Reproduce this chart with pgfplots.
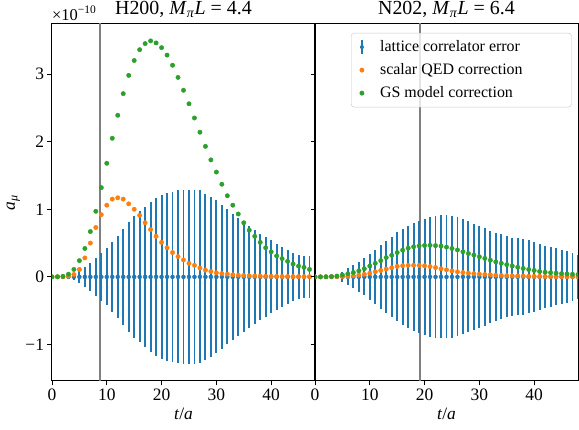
\documentclass[border=0pt]{standalone}
\usepackage{fontspec}
\setmainfont{Liberation Serif}
\usepackage{pgfplots}
\pgfplotsset{compat=1.18}
\usepackage{pgfplotstable}

\definecolor{c0}{HTML}{1F77B4}
\definecolor{c1}{HTML}{FF7F0E}
\definecolor{c2}{HTML}{2CA02C}

% marker for the legend: a vertical error bar with a dot at its centre
\pgfdeclareplotmark{errbar}{%
  \pgfsetlinewidth{1.9bp}%
  \pgfpathmoveto{\pgfqpoint{0pt}{-7bp}}%
  \pgfpathlineto{\pgfqpoint{0pt}{7bp}}%
  \pgfusepathqstroke
  \pgfpathcircle{\pgfpointorigin}{2bp}%
  \pgfusepathqfill}

% H200: t, central value, correlator error, scalar QED and GS model corrections (units of 1e-10)
\pgfplotstableread{
t  c  err   qed    gs
0  0  0.000 0.000  0.000
1  0  0.002 0.000  0.002
2  0  0.005 0.002  0.008
3  0  0.015 0.012  0.040
4  0  0.050 0.035  0.110
5  0  0.085 0.110  0.240
6  0  0.150 0.280  0.420
7  0  0.210 0.500  0.670
8  0  0.280 0.730  0.970
9  0  0.350 0.920  1.320
10 0  0.420 1.060  1.680
11 0  0.515 1.150  2.050
12 0  0.610 1.170  2.390
13 0  0.710 1.150  2.710
14 0  0.810 1.080  2.980
15 0  0.900 1.000  3.200
16 0  0.970 0.910  3.360
17 0  1.040 0.800  3.450
18 0  1.110 0.700  3.490
19 0  1.170 0.600  3.460
20 0  1.210 0.510  3.390
21 0  1.240 0.430  3.280
22 0  1.260 0.360  3.130
23 0  1.280 0.300  2.950
24 0  1.290 0.250  2.760
25 0  1.290 0.200  2.560
26 0  1.290 0.170  2.350
27 0  1.280 0.130  2.140
28 0  1.230 0.100  1.930
29 0  1.180 0.080  1.730
30 0  1.130 0.060  1.550
31 0  1.070 0.050  1.370
32 0  1.000 0.040  1.200
33 0  0.930 0.030  1.060
34 0  0.870 0.025  0.930
35 0  0.810 0.020  0.800
36 0  0.750 0.016  0.690
37 0  0.690 0.013  0.600
38 0  0.640 0.011  0.510
39 0  0.590 0.009  0.430
40 0  0.540 0.008  0.370
41 0  0.490 0.007  0.310
42 0  0.440 0.006  0.270
43 0  0.400 0.005  0.230
44 0  0.360 0.004  0.190
45 0  0.330 0.004  0.160
46 0  0.310 0.003  0.140
47 0  0.310 0.003  0.110
}\tabH

% N202: same columns
\pgfplotstableread{
t  c  err   qed    gs
0  0  0.000 0.000  0.000
1  0  0.002 0.000  0.000
2  0  0.005 0.000  0.002
3  0  0.012 0.002  0.005
4  0  0.030 0.003  0.012
5  0  0.075 0.005  0.028
6  0  0.125 0.010  0.045
7  0  0.170 0.015  0.064
8  0  0.220 0.025  0.090
9  0  0.275 0.038  0.120
10 0  0.340 0.055  0.160
11 0  0.400 0.075  0.200
12 0  0.470 0.095  0.240
13 0  0.530 0.115  0.285
14 0  0.590 0.135  0.320
15 0  0.660 0.155  0.360
16 0  0.710 0.165  0.395
17 0  0.750 0.170  0.425
18 0  0.800 0.172  0.445
19 0  0.830 0.170  0.458
20 0  0.860 0.163  0.465
21 0  0.890 0.152  0.466
22 0  0.900 0.138  0.462
23 0  0.910 0.120  0.455
24 0  0.910 0.104  0.440
25 0  0.900 0.088  0.420
26 0  0.880 0.074  0.398
27 0  0.850 0.064  0.372
28 0  0.820 0.055  0.345
29 0  0.780 0.048  0.323
30 0  0.750 0.041  0.298
31 0  0.720 0.035  0.273
32 0  0.680 0.030  0.247
33 0  0.650 0.025  0.222
34 0  0.630 0.021  0.201
35 0  0.600 0.018  0.181
36 0  0.580 0.015  0.161
37 0  0.570 0.013  0.143
38 0  0.560 0.011  0.125
39 0  0.540 0.009  0.110
40 0  0.520 0.008  0.095
41 0  0.490 0.007  0.080
42 0  0.460 0.006  0.070
43 0  0.440 0.005  0.062
44 0  0.420 0.004  0.055
45 0  0.400 0.004  0.048
46 0  0.380 0.003  0.043
47 0  0.360 0.003  0.039
48 0  0.330 0.002  0.035
}\tabN

\pgfplotsset{
  panel/.style={
    scale only axis, width=263bp, height=357bp,
    xmin=0, xmax=48, ymin=-1.54, ymax=3.74,
    xtick={0,10,20,30,40}, ytick={-1,0,1,2,3},
    tick align=outside, xtick pos=bottom, ytick pos=left,
    major tick length=4.5bp,
    every tick/.style={black, line width=0.9bp},
    axis line style={line width=1bp},
    clip marker paths=true,
    /pgf/number format/assume math mode=true,
    tick label style={font=\fontsize{17.5}{20}\selectfont},
    label style={font=\fontsize{17.5}{20}\selectfont},
    title style={font=\fontsize{20}{23}\selectfont, yshift=-3.5bp},
    xlabel={\textit{t}/\textit{a}},
    xlabel style={yshift=0bp},
  },
  errplot/.style={c0, only marks, mark=*, mark size=2bp,
    error bars/y dir=both, error bars/y explicit,
    error bars/error mark=none,
    error bars/error bar style={line width=1.9bp, c0}},
  qedplot/.style={c1, only marks, mark=*, mark size=2.2bp},
  gsplot/.style={c2, only marks, mark=*, mark size=2.2bp},
}

\begin{document}
\begin{tikzpicture}
\begin{axis}[panel, name=left, at={(0bp,0bp)}, anchor=south west,
  yticklabels={−1,0,1,2,3},
  ylabel={\textit{a}\textsubscript{\textit{μ}}},
  ylabel style={yshift=-1.5bp},
  title={H200, \textit{M}\textsubscript{\textit{π}}\textit{L} = 4.4}]
  \addplot[gray, line width=1.5bp] coordinates {(8.76,-2) (8.76,4)};
  \addplot[errplot] table[x=t, y=c, y error=err] {\tabH};
  \addplot[qedplot] table[x=t, y=qed] {\tabH};
  \addplot[gsplot] table[x=t, y=gs] {\tabH};
\end{axis}
\node[anchor=south west, inner sep=0pt, yshift=3.5bp,
  font=\fontsize{16.5}{19}\selectfont] at (left.north west) {×10\textsuperscript{−10}};
\begin{axis}[panel, at={(263bp,0bp)}, anchor=south west,
  yticklabels={},
  title={N202, \textit{M}\textsubscript{\textit{π}}\textit{L} = 6.4},
  legend style={at={(0.137,0.975)}, anchor=north west,
    draw=black!22, rounded corners=3bp, fill=white, fill opacity=0.8,
    text opacity=1, font=\fontsize{16}{19}\selectfont,
    inner xsep=8.5bp, inner ysep=5bp, row sep=5bp,
    nodes={inner xsep=3bp, inner ysep=2bp, text height=11bp, text depth=3bp}},
  legend cell align=left]
  \addplot[gray, line width=1.5bp, forget plot] coordinates {(19.2,-2) (19.2,4)};
  \addplot[forget plot, errplot] table[x=t, y=c, y error=err] {\tabN};
  \addplot[forget plot, qedplot] table[x=t, y=qed] {\tabN};
  \addplot[forget plot, gsplot] table[x=t, y=gs] {\tabN};
  \addlegendimage{only marks, mark=errbar, c0, fill opacity=1, draw opacity=1}
  \addlegendentry{\hspace*{13bp}lattice correlator error\hspace*{40bp}}
  \addlegendimage{only marks, mark=*, mark size=2.2bp, c1, fill opacity=1, draw opacity=1}
  \addlegendentry{\hspace*{13bp}scalar QED correction}
  \addlegendimage{only marks, mark=*, mark size=2.2bp, c2, fill opacity=1, draw opacity=1}
  \addlegendentry{\hspace*{13bp}GS model correction}
\end{axis}
\pgfresetboundingbox
\path[use as bounding box] (-52bp,-49bp) rectangle (527bp,381bp);
\end{tikzpicture}
\end{document}
